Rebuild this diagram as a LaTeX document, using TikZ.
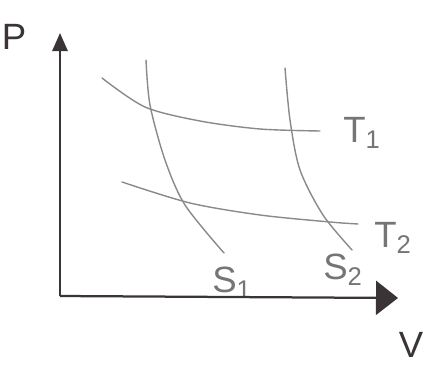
\documentclass[tikz,border=0pt]{standalone}
\usepackage{fontspec}
\setmainfont{Liberation Sans}
\usetikzlibrary{arrows.meta}

\definecolor{pen}{HTML}{3A3436}
\definecolor{pencil}{HTML}{8A8A8A}

\tikzset{
    axis/.style={
        draw=pen,
        line width=1.6pt
    },
    curve/.style={
        draw=pencil,
        line width=1pt,
        line cap=round
    },
    lbl/.style={
        text=pencil!85!black,
        font=\fontsize{26}{28}\selectfont,
        inner sep=0pt
    }
}

\begin{document}
\begin{tikzpicture}[x=0.025cm,y=-0.025cm]
    \useasboundingbox (0,0) rectangle (432,366);
		\path
			coordinate (o) at (60,296)
			coordinate (ptop) at (60,33)
			coordinate (vend) at (398,298)
			;
		\path
			node[lbl,text=pen] at (14,37) (p) {P}
			node[lbl,text=pen] at (411,345) (v) {V}
			node[lbl] at (362,133) (t1) {T\textsubscript{1}}
			node[lbl] at (393,238) (t2) {T\textsubscript{2}}
			node[lbl] at (232,283) (s1) {S\textsubscript{1}}
			node[lbl] at (343,270) (s2) {S\textsubscript{2}}
			;
		% axes
		\draw[axis,-{Triangle[length=0.45cm,width=0.38cm]}] (o) -- (ptop);
		\draw[axis,-{Triangle[length=0.55cm,width=0.85cm]}] (o) -- (vend);
		% isotherms
		\draw[curve] plot[smooth] coordinates
			{(102,78) (145,107) (200,121) (260,129) (320,131)};
		\draw[curve] plot[smooth] coordinates
			{(122,182) (190,203) (260,215) (330,222) (358,224)};
		% adiabats
		\draw[curve] plot[smooth] coordinates
			{(146,60) (150,105) (165,160) (185,205) (224,253)};
		\draw[curve] plot[smooth] coordinates
			{(285,68) (290,120) (300,170) (323,215) (352,250)};
\end{tikzpicture}
\end{document}
